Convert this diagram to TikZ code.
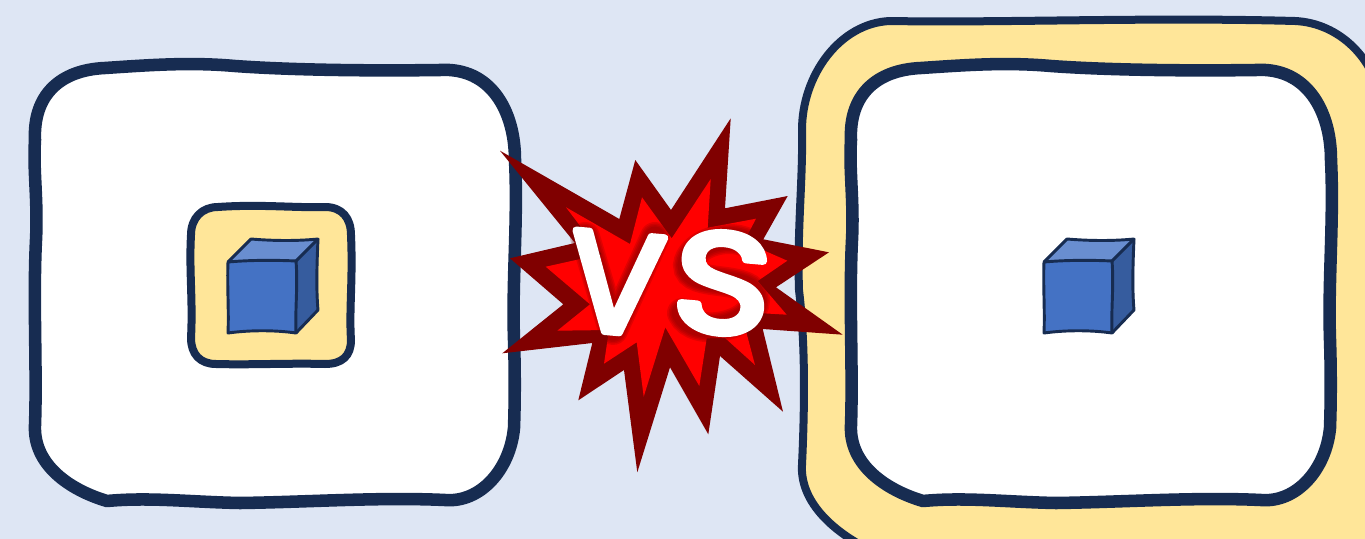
\documentclass[tikz,border=0pt]{standalone}
\usepackage{fontspec}
\usepackage{graphicx}
\newfontfamily\vsfont[FakeBold=5]{Poppins}
\definecolor{pagebg}{HTML}{DEE6F4}
\definecolor{navy}{HTML}{172C51}
\definecolor{sand}{HTML}{FFE699}
\definecolor{cubefront}{HTML}{4472C4}
\definecolor{cubetop}{HTML}{698ED0}
\definecolor{cubeside}{HTML}{365C9E}
\definecolor{burstdark}{HTML}{800000}
\definecolor{burstred}{HTML}{FF0000}
\tikzset{
  bigframe/.style={draw=navy, line width=9.4pt, line join=round},
  wrapframe/.style={draw=navy, fill=sand, line width=6pt, line join=round},
  cubeline/.style={draw=navy, line width=2.2pt, line join=round},
  vstext/.style={text=white, inner sep=0pt}
}
\newcommand{\bigframepath}{(105,68) .. controls (150,65) and (190,62) .. (235,66) .. controls (290,70) and (370,71) .. (440,70) .. controls (490,67) and (515,110) .. (515,160) .. controls (518,220) and (512,280) .. (514,340) .. controls (515,370) and (515,400) .. (514,428) .. controls (510,470) and (480,503) .. (445,500) .. controls (380,497) and (310,502) .. (240,503) .. controls (190,502) and (150,497) .. (107,501) .. controls (70,490) and (33,465) .. (35,425) .. controls (37,370) and (33,300) .. (36,240) .. controls (38,200) and (33,170) .. (35,140) .. controls (33,95) and (60,70) .. (105,68) -- cycle}
\newcommand{\smallcube}{%
  \fill[cubetop] (228,262) -- (251,239) -- (318,239) -- (296,261) -- cycle;
  \fill[cubeside] (296,261) -- (318,239) -- (318,310) -- (296,333) -- cycle;
  \filldraw[cubeline, fill=cubefront] (228,262) .. controls (250,260) and (275,260) .. (296,261) .. controls (298,285) and (295,310) .. (296,333) .. controls (275,330) and (250,330) .. (228,333) .. controls (229,310) and (227,285) .. (228,262) -- cycle;
  \draw[cubeline] (228,262) -- (251,239) .. controls (275,241) and (298,241) .. (318,239) -- (296,261);
  \draw[cubeline] (318,239) .. controls (317,262) and (316,288) .. (318,310) -- (296,333);
}
\begin{document}
\begin{tikzpicture}[x=0.75pt, y=-0.75pt]
\useasboundingbox (0,0) rectangle (1365,539);
\clip (0,0) rectangle (1365,539);
\fill[pagebg] (0,0) rectangle (1365,539);
\filldraw[bigframe, fill=white] \bigframepath;
\filldraw[wrapframe] (218,207) .. controls (260,204) and (295,208) .. (325,207) .. controls (342,207) and (351,218) .. (351,235) .. controls (353,280) and (349,310) .. (351,340) .. controls (351,356) and (342,364) .. (325,364) .. controls (290,363) and (250,365) .. (216,364) .. controls (200,364) and (191,354) .. (191,338) .. controls (193,300) and (189,270) .. (191,235) .. controls (191,218) and (202,207) .. (218,207) -- cycle;
\smallcube
\filldraw[wrapframe] (802,130) .. controls (802,75) and (840,23) .. (890,21) .. controls (1000,23) and (1150,17) .. (1295,21) .. controls (1340,23) and (1375,60) .. (1380,100) -- (1380,560) -- (870,550) .. controls (830,530) and (800,500) .. (802,465) .. controls (805,400) and (805,340) .. (799,290) .. controls (797,230) and (803,180) .. (802,130) -- cycle;
\begin{scope}[shift={(816,0)}]
\filldraw[bigframe, fill=white] \bigframepath;
\smallcube
\end{scope}
\fill[burstdark] (730.7,118.3) -- (725,208.3) -- (787.7,196) -- (763.3,239.3) -- (829,252.3) -- (776,287.3) -- (842.7,334.7) -- (762.7,329) -- (783,411.7) -- (720,356) -- (708.3,434.3) -- (670,367.3) -- (637.3,472.3) -- (624,370) -- (578.3,400.3) -- (592.3,343) -- (502.3,353.3) -- (563.3,304.3) -- (510,258.3) -- (575,243) -- (500,150.7) -- (619.3,219) -- (635.3,160) -- (671,210) -- cycle;
\fill[burstred] (710.7,179) -- (707.7,227.7) -- (756,218.7) -- (744,241.7) -- (787.3,260.7) -- (757.7,281) -- (786.7,314.7) -- (763,313.3) -- (745.7,330) -- (755,365) -- (725,338) -- (706.7,338.3) -- (699.3,386) -- (665.3,327.3) -- (643.7,396.7) -- (636.7,342.3) -- (604,363.7) -- (609,330) -- (557.3,330.7) -- (590,304.3) -- (545.7,266.7) -- (601.7,254.3) -- (566,207.3) -- (630,244) -- (642,197.3) -- (671.7,238.3) -- cycle;
\foreach \w in {30,27,24,21}
  \draw[burstdark, opacity=0.22, line width=\w*0.75pt, line cap=round, line join=round] (585,237) -- (613,330) -- (655,237);
\foreach \w in {30,27,24,21}
  \draw[burstdark, opacity=0.22, line width=\w*0.75pt, line cap=round] (748,243) .. controls (725,232) and (690,245) .. (688,265) .. controls (688,290) and (755,272) .. (755,300) .. controls (755,325) and (695,340) .. (682,313);
\begin{scope}[line join=round, line cap=round]
\node[vstext] (vs) at (670,283) {\fontsize{106}{106}\selectfont\vsfont\rotatebox{-5}{\scalebox{1.0}[1]{V}}\kern1pt\rotatebox{-5}{\scalebox{1.18}[1]{S}}};
\end{scope}
\end{tikzpicture}
\end{document}
